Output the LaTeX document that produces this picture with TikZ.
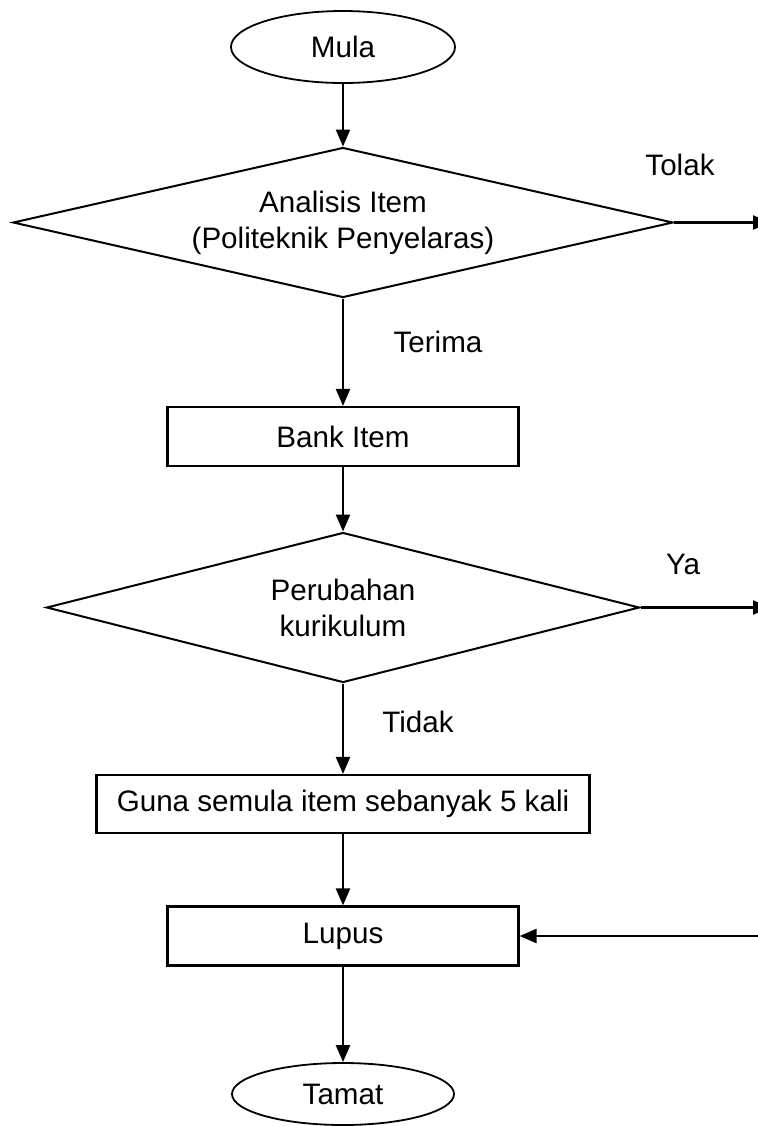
\documentclass[tikz,border=0pt]{standalone}
\usepackage{fontspec}
\setmainfont{Liberation Sans}
\usetikzlibrary{arrows.meta, shapes.geometric, positioning}
\tikzset{
    flowline/.style={line width=1.2pt, -{Triangle[length=8.5pt,width=7pt]}},
    termnode/.style={draw, ellipse, line width=0.9pt, inner sep=0pt, minimum width=112pt, minimum height=36pt},
    boxnode/.style={draw, rectangle, line width=1.1pt, inner sep=0pt, minimum width=175.5pt, minimum height=29.5pt},
    decnode/.style={draw, diamond, line width=1pt, aspect=4.4, inner sep=0pt, align=center, minimum height=75pt},
    lbl/.style={inner sep=0pt}
}
\begin{document}
\begin{tikzpicture}[x=0.5pt, y=-0.5pt, font=\fontsize{14.8}{18}\selectfont]
    \useasboundingbox (0,0) rectangle (757,1126);
    \def \axisx {343}
    \node[termnode] (mula) at (\axisx, 47) {Mula};
    \node[decnode, minimum width=330pt] (analisis) at (\axisx, 222.5) {Analisis Item\\(Politeknik Penyelaras)};
    \node[boxnode] (bank) at (\axisx, 436.5) {Bank Item};
    \node[decnode, minimum width=296.5pt] (ubah) at (\axisx, 607.5) {Perubahan\\kurikulum};
    \node[boxnode, minimum width=246.5pt, minimum height=29pt] (guna) at (\axisx, 804) {Guna semula item sebanyak 5 kali};
    \node[boxnode] (lupus) at (\axisx, 936) {Lupus};
    \node[termnode, minimum width=111pt, minimum height=31pt] (tamat) at (\axisx, 1094) {Tamat};
    % free ends at the right edge
    \coordinate (tolakend) at (770, 222.5);
    \coordinate (yaend) at (770, 607.5);
    \coordinate (lupusin) at (760, 936);
    % labels
    \node[lbl] (tolak) at (680, 165) {Tolak};
    \node[lbl] (terima) at (438, 342) {Terima};
    \node[lbl] (ya) at (683, 564) {Ya};
    \node[lbl] (tidak) at (418, 722) {Tidak};
    % connectors
    \draw[flowline] (mula) -- (analisis);
    \draw[flowline] (analisis) -- (bank);
    \draw[flowline] (bank) -- (ubah);
    \draw[flowline] (ubah) -- (guna);
    \draw[flowline] (guna) -- (lupus);
    \draw[flowline] (lupus) -- (tamat);
    \draw[flowline] (analisis.east) -- (tolakend);
    \draw[flowline] (ubah.east) -- (yaend);
    \draw[flowline] (lupusin) -- (lupus.east);
\end{tikzpicture}
\end{document}
